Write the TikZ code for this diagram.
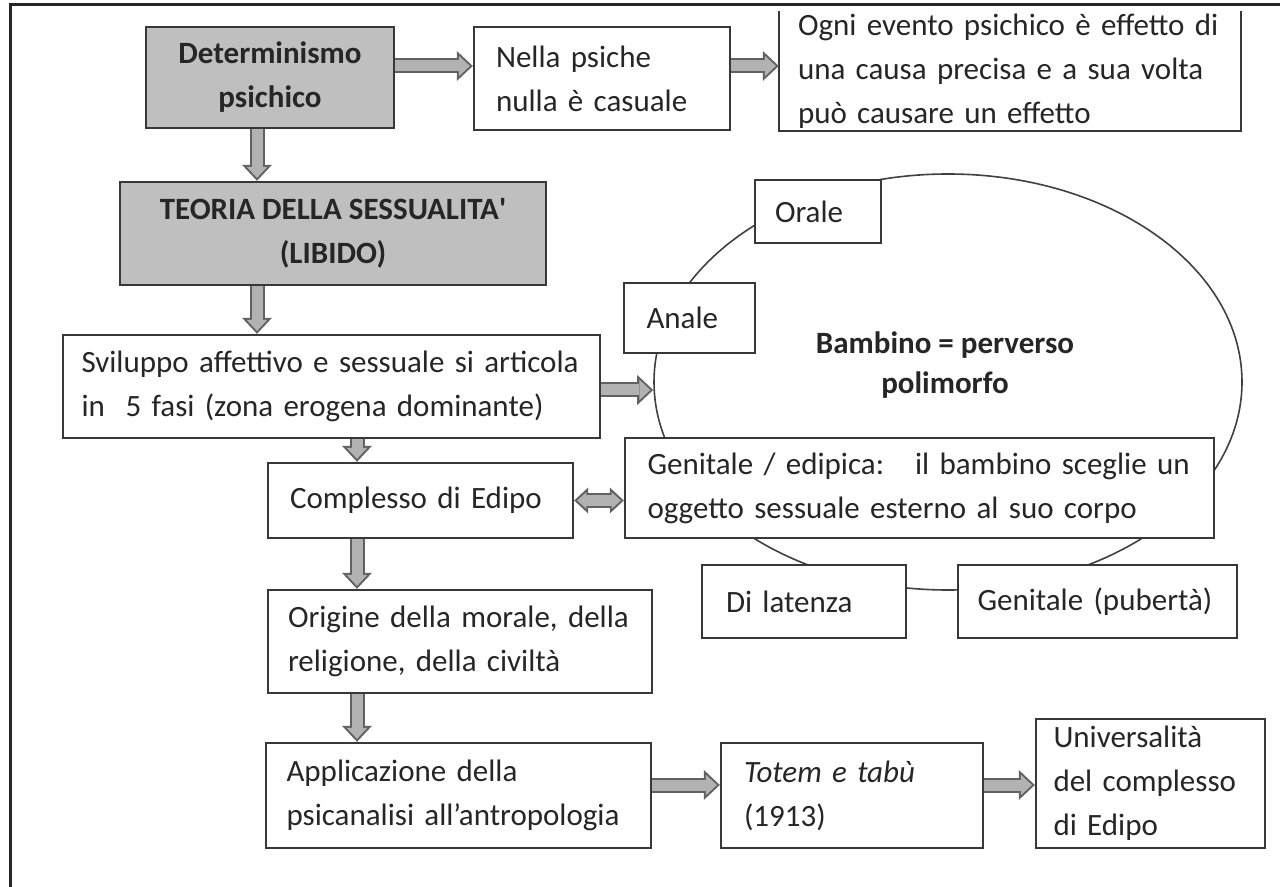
\documentclass[tikz,border=0pt]{standalone}
\usepackage{fontspec}
\setmainfont{Carlito}
\usepackage{tikz}
\usetikzlibrary{arrows.meta, shapes.geometric}

\begin{document}
\begin{tikzpicture}[x=0.5pt, y=-0.5pt, line width=1.2pt,
    font=\fontsize{15.5}{22}\selectfont, text=black!85,
    box/.style={draw=black!78, fill=white, align=left, inner xsep=1pt, inner ysep=1pt},
    graybox/.style={box, fill=black!25, align=center, font=\fontsize{15.5}{22}\selectfont\bfseries},
    fat/.style={line width=7.5pt, draw=black!62, -{Triangle[length=8pt,width=15pt,line width=0pt]},
      postaction={draw=black!30, line width=5.5pt, shorten >=1.46pt,
        -{Triangle[length=5.5pt,width=10.3pt,line width=0pt]}}},
    fatboth/.style={line width=7.5pt, draw=black!62,
      {Triangle[length=7pt,width=13pt,line width=0pt]}-{Triangle[length=7pt,width=13pt,line width=0pt]},
      postaction={draw=black!30, line width=5.5pt, shorten >=1.5pt, shorten <=1.5pt,
        {Triangle[length=4.6pt,width=8.5pt,line width=0pt]}-{Triangle[length=4.6pt,width=8.5pt,line width=0pt]}}}]
    \useasboundingbox (0,0) rectangle (1280,887);
    \draw[color=black!85, line width=1.5pt] (10,887) -- (10,5) -- (1280,5);

    \coordinate (lx) at (257,0);
    \coordinate (mx) at (357,0);
    \coordinate (ty) at (0,66);
    \coordinate (ry) at (0,390);
    \coordinate (by) at (0,785);

    % the five phases
    \node[draw=black!75, line width=0.8pt, ellipse, minimum width=294pt, minimum height=208pt, inner sep=0pt] (ring) at (948,382) {};
    \node[font=\fontsize{15.5}{20}\selectfont\bfseries, align=center] (bamb) at (945,365) {Bambino = perverso\\polimorfo};
    \node[box, minimum width=63pt, minimum height=31.5pt, text width=43pt] (orale) at (818,211.5) {Orale};
    \node[box, minimum width=65.5pt, minimum height=35pt, text width=43pt] (anale) at (689.5,318) {Anale};
    \node[box, minimum width=294.5pt, minimum height=50pt, text width=272pt] (gen) at (919.5,488) {Genitale / edipica:\ \ \ il bambino sceglie un\\oggetto sessuale esterno al suo corpo};
    \node[box, minimum width=102pt, minimum height=36.5pt, text width=78pt] (lat) at (804,601.5) {Di latenza};
    \node[box, minimum width=139.5pt, minimum height=36.5pt, text width=120pt] (pub) at (1097.5,601.5) {Genitale (pubertà)};

    % main column
    \node[graybox, minimum width=124pt, minimum height=50.5pt] (det) at (270,77.5) {Determinismo\\psichico};
    \node[box, minimum width=128pt, minimum height=51.5pt, text width=106pt] (nel) at (602,78.5) {Nella psiche\\nulla è casuale};
    \node[box, draw=none, minimum width=230pt, minimum height=59pt, text width=212pt, inner ysep=0pt] (ogni) at (1010,71) {Ogni evento psichico è effetto di\\una causa precisa e a sua volta\\può causare un effetto};
    \draw[draw=black!78] (ogni.north west) -- (ogni.south west) -- (ogni.south east) -- (ogni.north east);
    \node[graybox, minimum width=213pt, minimum height=51.5pt] (teo) at (333,233.5) {TEORIA DELLA SESSUALITA\textquotesingle\\(LIBIDO)};
    \node[box, minimum width=268.5pt, minimum height=51.5pt, text width=250pt] (svil) at (331.5,386.5) {Sviluppo affettivo e sessuale si articola\\in\ \ 5 fasi (zona erogena dominante)};
    \node[box, minimum width=152.5pt, minimum height=37.5pt, text width=130.5pt] (comp) at (420.5,500.5) {Complesso di Edipo};
    \node[box, minimum width=192pt, minimum height=51.5pt, text width=172pt] (orig) at (460,641.5) {Origine della morale, della\\religione, della civiltà};
    \node[box, minimum width=192.5pt, minimum height=52.5pt, text width=172pt] (appl) at (458.5,795.5) {Applicazione della\\psicanalisi all’antropologia};
    \node[box, minimum width=131pt, minimum height=52.5pt, text width=108pt] (tot) at (852,795.5) {\textit{Totem e tabù}\\(1913)};
    \node[box, minimum width=114.5pt, minimum height=64.5pt, text width=97pt] (univ) at (1150.5,783.5) {Universalità\\del complesso\\di Edipo};

    \draw[fat] (det.east |- ty) -- (nel.west |- ty);
    \draw[fat] (nel.east |- ty) -- (ogni.west |- ty);
    \draw[fat] (det.south -| lx) -- (teo.north -| lx);
    \draw[fat] (teo.south -| lx) -- (svil.north -| lx);
    \draw[fat] (svil.east |- ry) -- (ring.west |- ry);
    \draw[fat] (svil.south -| mx) -- (comp.north -| mx);
    \draw[fatboth] (comp.east) -- (gen.west |- comp.east);
    \draw[fat] (comp.south -| mx) -- (orig.north -| mx);
    \draw[fat] (orig.south -| mx) -- (appl.north -| mx);
    \draw[fat] (appl.east |- by) -- (tot.west |- by);
    \draw[fat] (tot.east |- by) -- (univ.west |- by);
\end{tikzpicture}
\end{document}
